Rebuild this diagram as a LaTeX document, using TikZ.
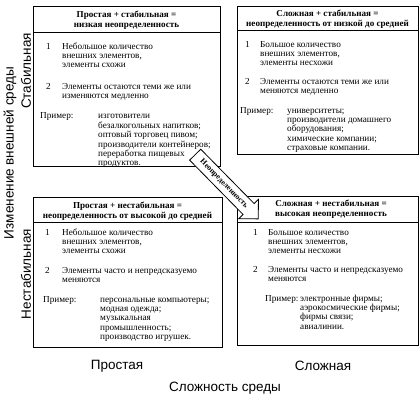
\documentclass[tikz,border=0pt]{standalone}
\usepackage{fontspec}
\setmainfont{Liberation Serif}
\newfontfamily\axisfam{Liberation Sans}
\usetikzlibrary{shapes.arrows}

\newcommand{\txtfont}{\fontsize{9.2}{9.3}\selectfont}
\newcommand{\hdrfont}{\fontsize{9.1}{10}\selectfont\bfseries}

\tikzset{
  frame/.style={draw, line width=0.8pt, inner sep=0pt, anchor=north west},
  hdr/.style={font=\hdrfont, align=center, inner sep=0pt},
  txt/.style={font=\txtfont, align=left, anchor=north west, inner sep=0pt},
  axis/.style={font=\axisfam\fontsize{13.5}{15}\selectfont, inner sep=0pt},
}

\begin{document}
\begin{tikzpicture}[x=1pt, y=-1pt]
  \useasboundingbox (0,0) rectangle (420,420);

  % Frames
  \node[frame, minimum width=187, minimum height=26] (tlh) at (33,6) {};
  \node[frame, minimum width=187, minimum height=134] (tlb) at (33,32) {};
  \node[frame, minimum width=181, minimum height=24] (trh) at (237,6) {};
  \node[frame, minimum width=181, minimum height=124] (trb) at (237,30) {};
  \node[frame, minimum width=189, minimum height=25] (blh) at (33,197) {};
  \node[frame, minimum width=189, minimum height=125] (blb) at (33,222) {};
  \node[frame, minimum width=181, minimum height=26] (brh) at (237,196) {};
  \node[frame, minimum width=181, minimum height=123] (brb) at (237,222) {};

  % Simple + stable
  \node[hdr] (tlt) at (126.5,20) {Простая + стабильная =\\низкая неопределенность};
  \node[txt] (tln1) at (46,42.6) {\strut 1};
  \node[txt] (tli1) at (62,42.6) {\strut Небольшое количество\\внешних элементов,\\элементы схожи};
  \node[txt] (tln2) at (46,82.6) {\strut 2};
  \node[txt] (tli2) at (62,82.6) {\strut Элементы остаются теми же или\\изменяются медленно};
  \node[txt] (tlp) at (40,111.6) {\strut Пример:};
  \node[txt] (tlx) at (98,111.6) {\strut изготовители\\безалкогольных напитков;\\оптовый торговец пивом;\\производители контейнеров;\\переработка пищевых\\продуктов.};

  % Complex + stable
  \node[hdr] (trt) at (327.5,19) {Сложная + стабильная =\\неопределенность от низкой до средней};
  \node[txt] (trn1) at (245,40.6) {\strut 1};
  \node[txt] (tri1) at (260,40.6) {\strut Большое количество\\внешних элементов,\\элементы несхожи};
  \node[txt] (trn2) at (245,77.6) {\strut 2};
  \node[txt] (tri2) at (260,77.6) {\strut Элементы остаются теми же или\\меняются медленно};
  \node[txt] (trp) at (240,106.6) {\strut Пример:};
  \node[txt] (trx) at (287,106.6) {\strut университеты;\\производители домашнего\\оборудования;\\химические компании;\\страховые компании.};

  % Simple + unstable
  \node[hdr] (blt) at (127.5,211) {Простая + нестабильная =\\неопределенность от высокой до средней};
  \node[txt] (bln1) at (45,228.6) {\strut 1};
  \node[txt] (bli1) at (62,228.6) {\strut Небольшое количество\\внешних элементов,\\элементы схожи};
  \node[txt] (bln2) at (45,266.6) {\strut 2};
  \node[txt] (bli2) at (62,266.6) {\strut Элементы часто и непредсказуемо\\меняются};
  \node[txt] (blp) at (43,295.6) {\strut Пример:};
  \node[txt] (blx) at (100,295.6) {\strut персональные компьютеры;\\модная одежда;\\музыкальная\\промышленность;\\производство игрушек.};

  % Complex + unstable
  \node[hdr] (brt) at (331,209) {Сложная + нестабильная =\\высокая неопределенность};
  \node[txt] (brn1) at (253,228.6) {\strut 1};
  \node[txt] (bri1) at (268,228.6) {\strut Большое количество\\внешних элементов,\\элементы несхожи};
  \node[txt] (brn2) at (253,265.6) {\strut 2};
  \node[txt] (bri2) at (268,265.6) {\strut Элементы часто и непредсказуемо\\меняются};
  \node[txt] (brp) at (265,294.6) {\strut Пример:};
  \node[txt] (brx) at (300,294.6) {\strut электронные фирмы;\\аэрокосмические фирмы;\\фирмы связи;\\авиалинии.};

  % Arrow across
  \node[single arrow, draw, fill=white, line width=0.8pt, rotate=-45.5,
        minimum height=90, inner xsep=1pt, inner ysep=4pt,
        single arrow head extend=6pt, font=\fontsize{7.8}{8}\selectfont\bfseries]
        (unc) at (224,184) {Неопределенность};

  % Axes
  \node[axis, rotate=90] (chg) at (10,153) {Изменение внешней среды};
  \node[axis, rotate=90] (stb) at (26,71) {Стабильная};
  \node[axis, rotate=90] (ustb) at (26,274) {Нестабильная};
  \node[axis] (smp) at (117,366) {Простая};
  \node[axis] (cpx) at (323,366) {Сложная};
  \node[axis] (cplx) at (225,388) {Сложность среды};
\end{tikzpicture}
\end{document}
